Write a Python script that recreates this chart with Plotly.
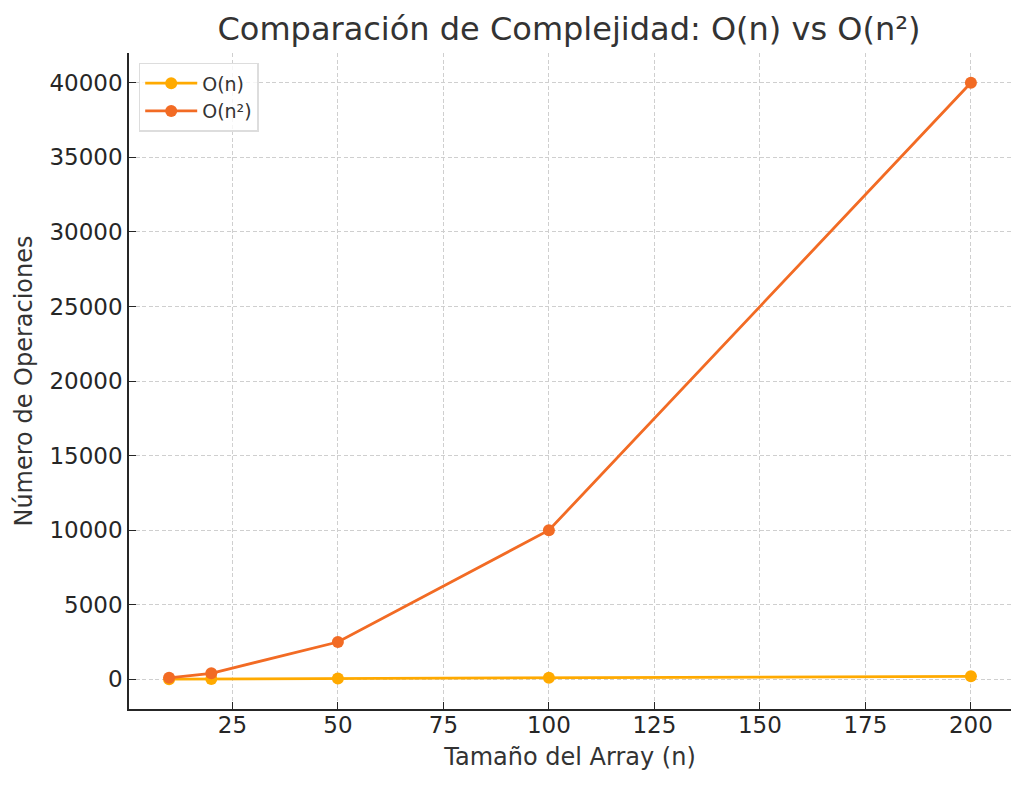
import plotly.graph_objects as go

n_values = [10, 20, 50, 100, 200]
o_n = [10, 20, 50, 100, 200]
o_n2 = [100, 400, 2500, 10000, 40000]
series_names = ["O(n)", "O(n²)"]
colors = ["#FFAA00", "#F26B24"]

fig = go.Figure()
fig.add_trace(go.Scatter(x=n_values, y=o_n, mode="lines+markers", name=series_names[0],
                         line=dict(color=colors[0], width=2.8), marker=dict(size=12, color=colors[0])))
fig.add_trace(go.Scatter(x=n_values, y=o_n2, mode="lines+markers", name=series_names[1],
                         line=dict(color=colors[1], width=2.8), marker=dict(size=12, color=colors[1])))

font = "DejaVu Sans"
grid = dict(showgrid=True, gridcolor="#cfcfcf", griddash="4px,2.5px", gridwidth=1, zeroline=False)
fig.update_layout(
    width=1024, height=785,
    margin=dict(l=129, r=13, t=53, b=76),
    paper_bgcolor="white", plot_bgcolor="white",
    font=dict(family=font, color="#333333", size=22),
    title=dict(text="Comparación de Complejidad: O(n) vs O(n²)", x=0.5557, xanchor="center",
               y=1 - 29/785, yanchor="middle", font=dict(size=32, color="#333333")),
    xaxis=dict(range=[0.5, 209.5], tickvals=[25, 50, 75, 100, 125, 150, 175, 200],
               showline=True, linecolor="#262626", linewidth=1.6, mirror=False,
               ticks="inside", ticklen=7, tickcolor="#262626", tickwidth=1.3,
               tickfont=dict(size=23, color="#262626"), ticklabelstandoff=-5,
               title=dict(text="Tamaño del Array (n)", font=dict(size=24, color="#333333"), standoff=11),
               **grid),
    yaxis=dict(range=[-1990, 41999.5], tickvals=[0, 5000, 10000, 15000, 20000, 25000, 30000, 35000, 40000],
               tickformat="d",
               showline=True, linecolor="#262626", linewidth=1.6, mirror=False,
               ticks="inside", ticklen=7, tickcolor="#262626", tickwidth=1.3,
               tickfont=dict(size=23, color="#262626"),
               title=dict(text="Número de Operaciones", font=dict(size=24, color="#333333"), standoff=10),
               **grid),
    legend=dict(x=0.011, y=0.985, xanchor="left", yanchor="top", bgcolor="rgba(255,255,255,0.8)",
                bordercolor="#dddddd", borderwidth=1.5, font=dict(size=19, color="#333333"),
                itemwidth=52, tracegroupgap=6),
    showlegend=True,
)
fig.write_html("out.html")
